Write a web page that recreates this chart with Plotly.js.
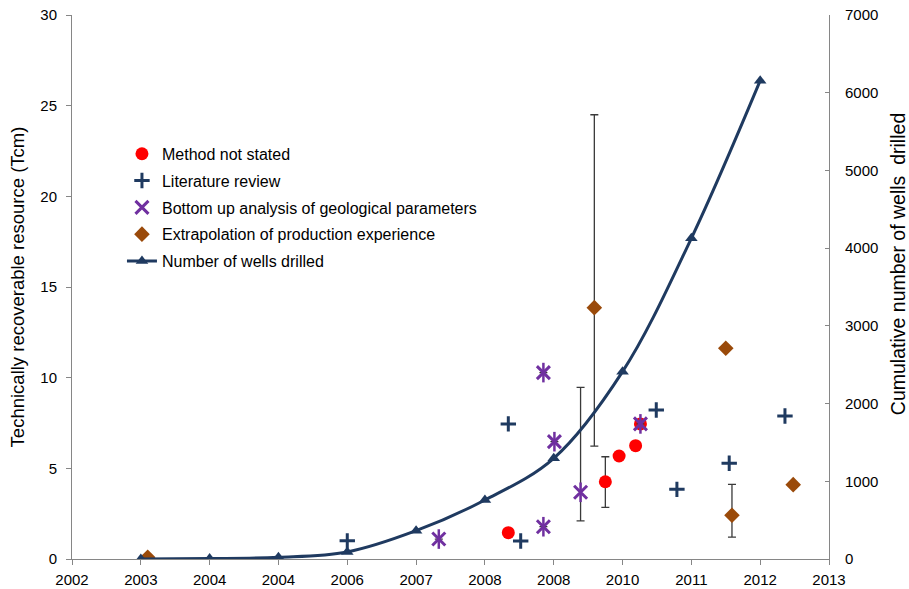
<!DOCTYPE html>
<html>
<head>
<meta charset="utf-8">
<script src="https://cdn.plot.ly/plotly-3.0.1.min.js"></script>
<style>html,body{margin:0;padding:0;background:#fff;}#chart{width:909px;height:589px;}</style>
</head>
<body>
<div id="chart"></div>
<script>
// X axis tick labels (as printed on the original chart)
const xTickLabels = ['2002','2003','2004','2004','2006','2007','2008','2008','2010','2011','2012','2013'];

// Method not stated
const methodX = [6.34, 7.75, 7.95, 8.19, 8.26];
const methodY = [1.45, 4.26, 5.68, 6.25, 7.45];
const methodHigh = [null, 5.64, null, null, null];
const methodLow  = [null, 2.85, null, null, null];

// Literature review
const litX = [4.0, 6.34, 6.52, 8.49, 8.79, 9.55, 10.36];
const litY = [1.0, 7.45, 0.99, 8.22, 3.84, 5.28, 7.89];

// Bottom up analysis of geological parameters
const bottomX = [5.33, 6.85, 6.85, 7.01, 7.39, 8.26];
const bottomY = [1.1, 1.78, 10.28, 6.47, 3.68, 7.45];
const bottomHigh = [null, null, null, null, 9.47, null];
const bottomLow  = [null, null, null, null, 2.1, null];

// Extrapolation of production experience
const extrapX = [1.10, 7.59, 9.50, 9.59, 10.48];
const extrapY = [0.1, 13.86, 11.62, 2.41, 4.1];
const extrapHigh = [null, 24.5, null, 4.12, null];
const extrapLow  = [null, 6.23, null, 1.21, null];

// Number of wells drilled (cumulative)
const wellsX = [1, 2, 3, 4, 5, 6, 7, 8, 9, 10];
const wellsY = [0, 5, 22, 91, 364, 759, 1296, 2411, 4127, 6155];

function errUp(y, hi) { return y.map((v, i) => hi[i] == null ? null : hi[i] - v); }
function errDown(y, lo) { return y.map((v, i) => lo[i] == null ? null : v - lo[i]); }

const errStyle = { color: '#3a3a3a', thickness: 1.3, width: 4 };

const traces = [
  {
    type: 'scatter', mode: 'markers', name: 'Method not stated', legendgroup: 'a',
    x: methodX, y: methodY, yaxis: 'y',
    marker: { symbol: 'circle', size: 13, color: '#FF0000' },
    error_y: Object.assign({ type: 'data', symmetric: false, array: errUp(methodY, methodHigh), arrayminus: errDown(methodY, methodLow) }, errStyle)
  },
  {
    type: 'scatter', mode: 'markers', name: 'Literature review', legendgroup: 'b',
    x: litX, y: litY, yaxis: 'y',
    marker: { symbol: 'cross-thin-open', size: 11, color: '#1F3A60', line: { width: 3, color: '#1F3A60' } }
  },
  {
    type: 'scatter', mode: 'markers', name: 'Bottom up analysis of geological parameters', legendgroup: 'c',
    x: bottomX, y: bottomY, yaxis: 'y',
    marker: { symbol: 'x-thin-open', size: 13, color: '#7030A0', line: { width: 3, color: '#7030A0' } },
    error_y: Object.assign({ type: 'data', symmetric: false, array: errUp(bottomY, bottomHigh), arrayminus: errDown(bottomY, bottomLow) }, errStyle)
  },
  {
    type: 'scatter', mode: 'markers', name: 'Bottom up (bar)', legendgroup: 'c', showlegend: false,
    x: bottomX, y: bottomY, yaxis: 'y', hoverinfo: 'skip',
    marker: { symbol: 'line-ns-open', size: 14, color: '#7030A0', line: { width: 2.5, color: '#7030A0' } }
  },
  {
    type: 'scatter', mode: 'markers', name: 'Extrapolation of production experience', legendgroup: 'd',
    x: extrapX, y: extrapY, yaxis: 'y',
    marker: { symbol: 'diamond', size: 12, color: '#9A4A0A' },
    error_y: Object.assign({ type: 'data', symmetric: false, array: errUp(extrapY, extrapHigh), arrayminus: errDown(extrapY, extrapLow) }, errStyle)
  },
  {
    type: 'scatter', mode: 'lines+markers', name: 'Number of wells drilled', legendgroup: 'e',
    x: wellsX, y: wellsY, yaxis: 'y2',
    line: { color: '#1F3A60', width: 3, shape: 'spline' },
    marker: { symbol: 'triangle-up', size: 11, color: '#1F3A60' }
  }
];

const axisColor = '#868686';
const fam = 'Liberation Sans, Arial, sans-serif';
const font = { family: fam, size: 15, color: '#000' };

const layout = {
  width: 909, height: 589,
  margin: { l: 72, r: 80, t: 15, b: 30, pad: 0 },
  paper_bgcolor: '#fff', plot_bgcolor: '#fff',
  font: font,
  showlegend: true,
  legend: {
    x: 0.066, y: 0.776, xanchor: 'left', yanchor: 'top',
    bgcolor: 'rgba(0,0,0,0)', traceorder: 'grouped', tracegroupgap: 3,
    font: { family: fam, size: 16, color: '#000' }
  },
  xaxis: {
    range: [0, 11], tickmode: 'array', tickvals: xTickLabels.map((_, i) => i), ticktext: xTickLabels,
    showgrid: false, zeroline: false, showline: true, linecolor: axisColor, linewidth: 1,
    ticks: 'outside', ticklen: 5, tickcolor: axisColor, tickfont: font, ticklabelstandoff: 2,
    mirror: false
  },
  yaxis: {
    range: [0, 30], dtick: 5, tick0: 0,
    showgrid: false, zeroline: false, showline: true, linecolor: axisColor, linewidth: 1,
    ticks: 'outside', ticklen: 5, tickcolor: axisColor, tickfont: font, ticklabelstandoff: 6,
    title: { text: 'Technically recoverable resource (Tcm)', font: { family: fam, size: 18.5, color: '#000' }, standoff: 10 }
  },
  yaxis2: {
    range: [0, 7000], dtick: 1000, tick0: 0, overlaying: 'y', side: 'right',
    showgrid: false, zeroline: false, showline: true, linecolor: axisColor, linewidth: 1,
    ticks: 'inside', ticklen: 4, tickcolor: axisColor, tickfont: font, ticklabelstandoff: 12
  },
  annotations: [{
    text: 'Cumulative number of wells\u00a0 drilled',
    xref: 'paper', yref: 'paper', x: 1, y: 0.542, xanchor: 'center', yanchor: 'middle',
    xshift: 69, textangle: -90, showarrow: false,
    font: { family: fam, size: 19.5, color: '#000' }
  }]
};

Plotly.newPlot('chart', traces, layout, { displayModeBar: false, staticPlot: true });
</script>
</body>
</html>
